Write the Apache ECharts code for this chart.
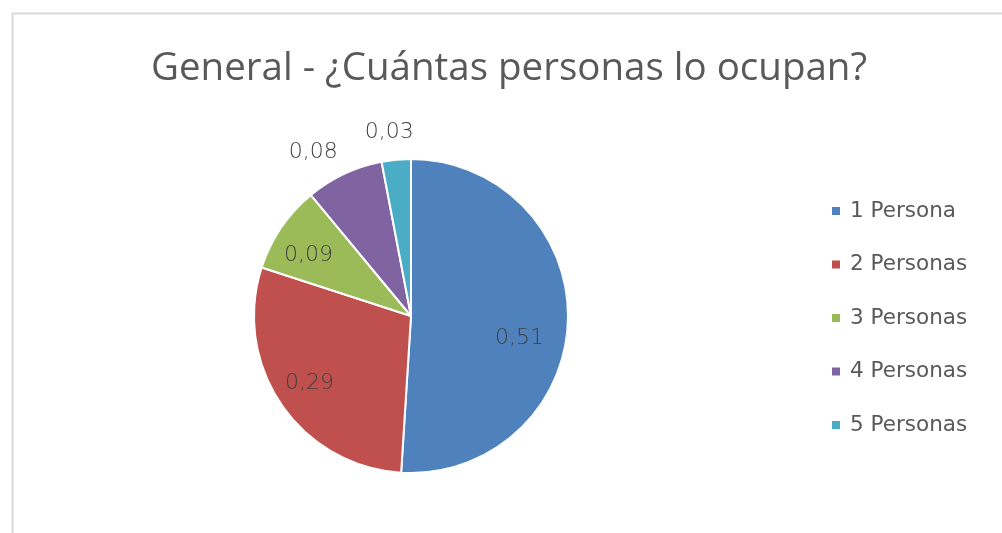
<!DOCTYPE html>
<html>
<head>
<meta charset="utf-8">
<script src="https://cdn.jsdelivr.net/npm/echarts@6/dist/echarts.min.js"></script>
<style>html,body{margin:0;padding:0;background:#fff;}#c{width:1002px;height:533px;}</style>
</head>
<body>
<div id="c"></div>
<script>
const categories = ['1 Persona', '2 Personas', '3 Personas', '4 Personas', '5 Personas'];
const values = [0.51, 0.29, 0.09, 0.08, 0.03];
const colors = ['#4F81BD', '#C0504D', '#9BBB59', '#8064A2', '#4BACC6'];
const labelOffsets = [[27, 20], [-34, 21], [-35, -15], [-63, -90], [-14, -103]];

const chart = echarts.init(document.getElementById('c'), null, {renderer: 'canvas'});
const titleFont = '"Open Sans", "Noto Sans", sans-serif';
const bodyFont = '"DejaVu Sans", sans-serif';
chart.setOption({
  animation: false,
  backgroundColor: '#fff',
  color: colors,
  title: {
    text: 'General - ¿Cuántas personas lo ocupan?',
    left: 146,
    top: 45,
    textStyle: {fontFamily: titleFont, fontSize: 38.5, fontWeight: 'normal', color: '#595959'}
  },
  legend: {
    orient: 'vertical',
    left: 825,
    top: 195,
    icon: 'rect',
    itemWidth: 10,
    itemHeight: 10,
    itemGap: 31.5,
    data: categories,
    textStyle: {fontFamily: bodyFont, fontSize: 21.5, lineHeight: 21, color: '#595959', padding: [0, 0, 0, 4]}
  },
  graphic: [{
    type: 'rect',
    left: 10, top: 11,
    shape: {width: 1200, height: 700},
    style: {fill: 'none', stroke: '#d9d9d9', lineWidth: 2},
    silent: true
  }],
  series: [{
    type: 'pie',
    center: [411, 316],
    radius: 157,
    startAngle: 90,
    clockwise: true,
    avoidLabelOverlap: false,
    itemStyle: {borderColor: '#fff', borderWidth: 2},
    label: {
      show: true,
      position: 'inside',
      fontFamily: bodyFont,
      fontWeight: 200,
      fontSize: 22,
      color: '#404040',
      formatter: p => p.value.toFixed(2).replace('.', ',')
    },
    labelLine: {show: false},
    data: categories.map((c, i) => ({name: c, value: values[i], label: {offset: labelOffsets[i]}}))
  }]
});
</script>
</body>
</html>
